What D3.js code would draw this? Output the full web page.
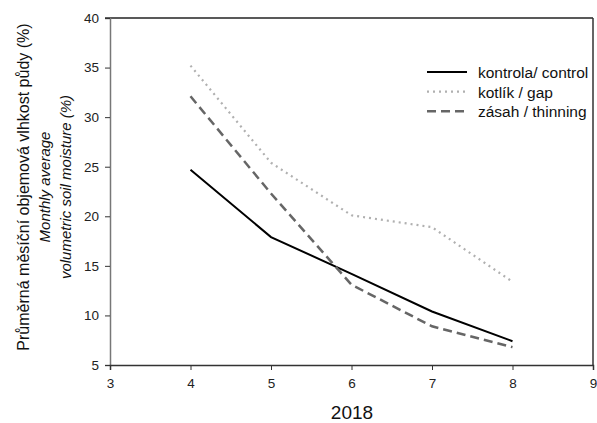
<!DOCTYPE html>
<html>
<head>
<meta charset="utf-8">
<script src="https://cdn.jsdelivr.net/npm/d3@7"></script>
<style>
  body { margin: 0; background: #fff; }
  svg { display: block; font-family: "Liberation Sans", Arial, sans-serif; }
</style>
</head>
<body>
<svg id="chart" width="597" height="423"></svg>
<script>
// Months of 2018 (April–August)
const months = [4, 5, 6, 7, 8];
// Monthly average volumetric soil moisture (%)
const control  = [24.7, 17.9, 14.2, 10.4, 7.4];
const gap      = [35.2, 25.4, 20.1, 18.9, 13.4];
const thinning = [32.1, 22.3, 13.1, 8.9, 6.8];

const xTicks = [3, 4, 5, 6, 7, 8, 9];
const yTicks = [5, 10, 15, 20, 25, 30, 35, 40];

const seriesNames = ["kontrola/ control", "kotlík / gap", "zásah / thinning"];

const svg = d3.select("#chart");
const plot = { left: 110, right: 593, top: 18, bottom: 365 };

const x = d3.scaleLinear().domain([3, 9]).range([plot.left, plot.right]);
const y = d3.scaleLinear().domain([5, 40]).range([plot.bottom, plot.top]);

// frame
svg.append("line").attr("x1", plot.left - 5).attr("x2", plot.right).attr("y1", plot.top).attr("y2", plot.top)
  .attr("stroke", "#222").attr("stroke-width", 1.5);
svg.append("line").attr("x1", plot.right).attr("x2", plot.right).attr("y1", plot.top).attr("y2", plot.bottom)
  .attr("stroke", "#333").attr("stroke-width", 1.5);

// axes
const yAxis = svg.append("g").attr("transform", `translate(${plot.left},0)`)
  .call(d3.axisLeft(y).tickValues(yTicks).tickSize(5).tickPadding(6).tickFormat(d3.format("d")));
const xAxis = svg.append("g").attr("transform", `translate(0,${plot.bottom})`)
  .call(d3.axisBottom(x).tickValues(xTicks).tickSize(5).tickPadding(8).tickFormat(d3.format("d")));

yAxis.select(".domain").attr("stroke", "#777").attr("stroke-width", 1.5);
xAxis.select(".domain").attr("stroke", "#333").attr("stroke-width", 1.5);
[yAxis, xAxis].forEach(a => {
  a.selectAll(".tick line").attr("stroke", "#333");
  a.selectAll(".tick text").attr("font-size", 13.5).attr("fill", "#222")
    .attr("font-family", '"Liberation Sans", Arial, sans-serif');
});

// series
const line = d3.line().x((d, i) => x(months[i])).y(d => y(d));
const series = [
  { values: control,  color: "#000",    width: 2,   dash: null },
  { values: gap,      color: "#b0b0b0", width: 2.2, dash: "2,4" },
  { values: thinning, color: "#666",    width: 2.5, dash: "9,5" }
];
series.forEach(s => {
  svg.append("path").datum(s.values).attr("d", line)
    .attr("fill", "none").attr("stroke", s.color).attr("stroke-width", s.width)
    .attr("stroke-dasharray", s.dash);
});

// legend
const lg = svg.append("g");
series.forEach((s, i) => {
  const ly = 72 + i * 19.6;
  lg.append("line").attr("x1", 427).attr("x2", 467).attr("y1", ly).attr("y2", ly)
    .attr("stroke", s.color).attr("stroke-width", s.width).attr("stroke-dasharray", s.dash);
  lg.append("text").attr("x", 478).attr("y", ly + 6).attr("font-size", 15.5)
    .attr("fill", "#111").text(seriesNames[i]);
});

// axis titles
svg.append("text").attr("x", 352).attr("y", 419).attr("text-anchor", "middle")
  .attr("font-size", 19).attr("fill", "#111").text("2018");

const yt = svg.append("g").attr("transform", "translate(0,187) rotate(-90)");
yt.append("text").attr("x", 0).attr("y", 29).attr("text-anchor", "middle").attr("font-size", 16)
  .attr("fill", "#111").text("Průměrná měsíční objemová vlhkost půdy (%)");
yt.append("text").attr("x", 0).attr("y", 50).attr("text-anchor", "middle").attr("font-size", 15)
  .attr("font-style", "italic").attr("fill", "#111").text("Monthly average");
yt.append("text").attr("x", 0).attr("y", 71).attr("text-anchor", "middle").attr("font-size", 15)
  .attr("font-style", "italic").attr("fill", "#111").text("volumetric soil moisture (%)");
</script>
</body>
</html>
